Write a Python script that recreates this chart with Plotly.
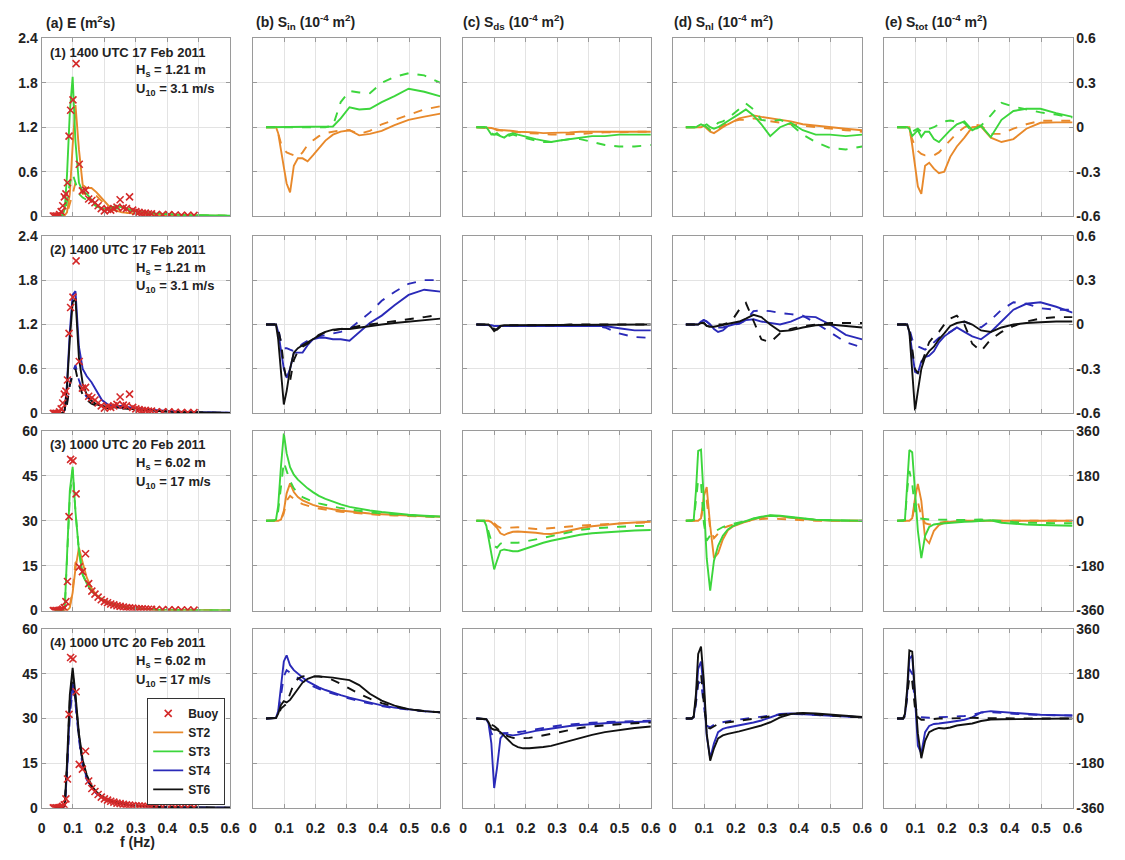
import plotly.graph_objects as go

# ---------------- data ----------------
F = [0.042, 0.046, 0.051, 0.056, 0.061, 0.067, 0.074, 0.081, 0.090, 0.099, 0.108, 0.119, 0.131, 0.144,
     0.159, 0.175, 0.192, 0.211, 0.232, 0.256, 0.281, 0.309, 0.340, 0.374, 0.412, 0.453, 0.498, 0.548, 0.600]

FB = [0.0375, 0.0425, 0.0475, 0.0525, 0.0575, 0.0625, 0.0675, 0.0725, 0.0775, 0.0825, 0.0875, 0.0925, 0.1,
      0.11, 0.12, 0.13, 0.14, 0.15, 0.16, 0.17, 0.18, 0.19, 0.2, 0.21, 0.22, 0.23, 0.24, 0.25, 0.26, 0.27,
      0.28, 0.29, 0.3, 0.31, 0.32, 0.33, 0.34, 0.35, 0.365, 0.385, 0.405, 0.425, 0.445, 0.465, 0.485]
BUOY_17FEB = [0, 0, 0, 0, 0.02, 0.06, 0.14, 0.26, 0.3, 0.45, 1.08, 1.43, 1.57,
              2.06, 0.70, 0.34, 0.35, 0.23, 0.21, 0.18, 0.14, 0.1, 0.07, 0.09, 0.08, 0.1, 0.12, 0.22, 0.11, 0.1,
              0.26, 0.08, 0.06, 0.05, 0.04, 0.04, 0.03, 0.03, 0.02, 0.02, 0.02, 0.015, 0.01, 0.01, 0.01]
BUOY_20FEB = [0, 0, 0, 0, 0, 0.2, 0.5, 1, 3, 9.7, 31.4, 50.5, 50,
              39, 14.6, 13, 19, 9, 6.5, 5.5, 4.5, 3.6, 3, 2.6, 2.2, 1.9, 1.6, 1.4, 1.2, 1,
              0.9, 0.8, 0.7, 0.6, 0.55, 0.5, 0.45, 0.4, 0.35, 0.3, 0.25, 0.22, 0.2, 0.18, 0.15]

# Row 1 (ST2, ST3)
E1_ST2 = [0,0,0,0,0,0, 0.01,0.05,0.3,0.95,1.5,0.9, 0.42,0.38,0.38,0.32,0.24,0.15, 0.08,0.05,0.04,0.03,0.02,0.015, 0.01,0.008,0.005,0.004,0.003]
E1_ST2D = [0,0,0,0,0,0, 0.01,0.03,0.15,0.3,0.45,0.4, 0.3,0.3,0.3,0.27,0.2,0.12, 0.08,0.05,0.04,0.03,0.02,0.015, 0.01,0.008,0.005,0.004,0.003]
E1_ST3 = [0,0,0,0,0,0.01, 0.1,0.55,1.4,1.88,1.0,0.45, 0.33,0.3,0.22,0.15,0.1,0.1, 0.13,0.12,0.09,0.06,0.04,0.03, 0.02,0.015,0.01,0.008,0.006]
E1_ST3D = [0,0,0,0,0,0.01, 0.05,0.2,0.45,0.57,0.45,0.3, 0.25,0.22,0.18,0.13,0.1,0.09, 0.1,0.1,0.08,0.05,0.04,0.03, 0.02,0.015,0.01,0.008,0.006]
SIN1_ST2 = [0,0,0,0,0,0, 0,-0.04,-0.17,-0.27,-0.38,-0.44, -0.26,-0.21,-0.21,-0.23,-0.19,-0.14, -0.09,-0.05,-0.03,-0.02,-0.055,-0.045, -0.025,0.015,0.05,0.072,0.092]
SIN1_ST2D = [0,0,0,0,0,0, 0,-0.04,-0.11,-0.15,-0.17,-0.18, -0.19,-0.2,-0.17,-0.12,-0.09,-0.06, -0.04,-0.03,-0.02,-0.02,-0.045,-0.025, 0.02,0.05,0.085,0.12,0.142]
SIN1_ST3 = [0,0,0,0,0,0, 0,0,0,0,0,0, 0,0,0,0,0,0, 0,0.005,0.06,0.135,0.12,0.125, 0.17,0.21,0.26,0.24,0.208]
SIN1_ST3D = [0,0,0,0,0,0, 0,0,0,0,0,0, 0,0,0,0,0,0, 0,0.01,0.17,0.245,0.235,0.23, 0.3,0.34,0.365,0.35,0.3]
SDS1_ST2 = [0,0,0,0,0,0, 0,0,-0.005,-0.01,-0.015,-0.02, -0.02,-0.02,-0.025,-0.03,-0.03,-0.03, -0.035,-0.04,-0.04,-0.04,-0.035,-0.03, -0.03,-0.025,-0.025,-0.03,-0.03]
SDS1_ST2D = [0,0,0,0,0,0, 0,0,-0.005,-0.01,-0.02,-0.02, -0.02,-0.025,-0.03,-0.03,-0.035,-0.04, -0.04,-0.045,-0.05,-0.05,-0.05,-0.045, -0.04,-0.035,-0.035,-0.03,-0.03]
SDS1_ST3 = [0,0,0,0,0,0, 0,-0.02,-0.05,-0.05,-0.04,-0.06, -0.07,-0.05,-0.04,-0.05,-0.06,-0.07, -0.08,-0.09,-0.1,-0.09,-0.08,-0.07, -0.06,-0.06,-0.05,-0.05,-0.05]
SDS1_ST3D = [0,0,0,0,0,0, 0,-0.02,-0.04,-0.05,-0.05,-0.06, -0.07,-0.06,-0.05,-0.06,-0.07,-0.08, -0.09,-0.1,-0.1,-0.09,-0.08,-0.08, -0.1,-0.12,-0.13,-0.13,-0.12]
SNL1_ST2 = [0,0,0,0,0,0, 0,0,0,0.01,-0.01,-0.03, -0.04,-0.02,0,0.02,0.04,0.06, 0.07,0.08,0.07,0.06,0.05,0.04, 0.02,0.01,0,-0.01,-0.02]
SNL1_ST2D = [0,0,0,0,0,0, 0,0,0,0.01,0,-0.02, -0.03,-0.01,0.01,0.03,0.04,0.05, 0.05,0.06,0.05,0.04,0.03,0.02, 0.01,0,-0.01,-0.02,-0.03]
SNL1_ST3 = [0,0,0,0,0,0, 0,0.01,0.02,0.01,0.02,0, -0.01,0,0.02,0.04,0.06,0.09, 0.12,0.08,0.02,-0.06,0,0.03, -0.02,-0.05,-0.05,-0.06,-0.05]
SNL1_ST3D = [0,0,0,0,0,0, 0,0.01,0.02,0.01,0,-0.02, 0,0.03,0.04,0.06,0.09,0.12, 0.16,0.12,0.05,0.04,0.05,0.02, -0.05,-0.1,-0.14,-0.15,-0.13]
STOT1_ST2 = [0,0,0,0,0,0, 0,0,-0.12,-0.28,-0.4,-0.45, -0.26,-0.24,-0.28,-0.31,-0.3,-0.2, -0.13,-0.07,0,0.005,-0.07,-0.1, -0.08,-0.01,0.03,0.033,0.033]
STOT1_ST2D = [0,0,0,0,0,0, 0,-0.03,-0.08,-0.13,-0.16,-0.18, -0.19,-0.19,-0.19,-0.17,-0.13,-0.09, -0.04,0,0.02,0.01,-0.045,-0.045, -0.01,0.02,0.044,0.044,0.044]
STOT1_ST3 = [0,0,0,0,0,0, 0,-0.01,-0.06,-0.04,-0.02,-0.065, -0.03,-0.03,-0.08,-0.1,-0.06,-0.02, 0.02,0.04,-0.02,0.01,-0.066,0.05, 0.11,0.125,0.125,0.095,0.07]
STOT1_ST3D = [0,0,0,0,0,0, 0,-0.01,-0.03,-0.02,-0.01,-0.03, -0.02,-0.01,0,0.02,0.04,0.045, 0.04,0.03,-0.03,0.01,0.08,0.165, 0.14,0.12,0.1,0.085,0.066]

# Row 2 (ST4, ST6)
E2_ST4 = [0,0,0,0,0,0, 0.05,0.4,1.1,1.6,1.65,0.9, 0.6,0.5,0.42,0.3,0.18,0.12, 0.1,0.1,0.08,0.06,0.05,0.04, 0.03,0.02,0.015,0.01,0.008]
E2_ST4D = [0,0,0,0,0,0, 0.02,0.15,0.4,0.55,0.65,0.45, 0.3,0.22,0.17,0.13,0.1,0.08, 0.08,0.08,0.07,0.05,0.04,0.03, 0.02,0.015,0.01,0.008,0.006]
E2_ST6 = [0,0,0,0,0,0, 0.05,0.35,1.0,1.5,1.55,0.75, 0.4,0.25,0.17,0.12,0.1,0.08, 0.08,0.08,0.06,0.05,0.04,0.03, 0.02,0.015,0.01,0.008,0.006]
E2_ST6D = [0,0,0,0,0,0, 0.02,0.12,0.38,0.52,0.6,0.38, 0.25,0.18,0.13,0.1,0.08,0.07, 0.07,0.07,0.06,0.05,0.04,0.03, 0.02,0.015,0.01,0.008,0.006]
SIN2_ST4 = [0,0,0,0,0,0, 0,-0.05,-0.18,-0.3,-0.36,-0.3, -0.19,-0.19,-0.19,-0.14,-0.1,-0.09, -0.09,-0.1,-0.1,-0.11,-0.05,0.01, 0.06,0.13,0.2,0.235,0.222]
SIN2_ST4D = [0,0,0,0,0,0, 0,-0.03,-0.12,-0.16,-0.16,-0.17, -0.18,-0.16,-0.13,-0.11,-0.09,-0.08, -0.07,-0.06,-0.05,-0.03,0.02,0.08, 0.16,0.22,0.275,0.3,0.3]
SIN2_ST6 = [0,0,0,0,0,0, 0,-0.1,-0.35,-0.54,-0.45,-0.3, -0.19,-0.16,-0.14,-0.12,-0.1,-0.075, -0.05,-0.035,-0.03,-0.03,-0.02,-0.01, 0,0.01,0.02,0.03,0.04]
SIN2_ST6D = [0,0,0,0,0,0, 0,-0.03,-0.12,-0.28,-0.38,-0.38, -0.24,-0.18,-0.15,-0.13,-0.1,-0.07, -0.05,-0.04,-0.03,-0.025,-0.01,0, 0.01,0.02,0.033,0.05,0.067]
SDS2_ST4 = [0,0,0,0,0,0, 0,0,-0.005,-0.01,-0.01,-0.005, -0.005,-0.005,-0.005,-0.005,-0.005,-0.005, -0.005,-0.005,-0.005,-0.005,-0.005,-0.005, -0.005,-0.01,-0.025,-0.04,-0.04]
SDS2_ST4D = [0,0,0,0,0,0, 0,0,-0.005,-0.01,-0.01,-0.005, -0.01,-0.01,-0.01,-0.01,-0.01,-0.01, -0.01,-0.01,-0.005,-0.005,-0.005,-0.005, -0.01,-0.02,-0.06,-0.085,-0.09]
SDS2_ST6 = [0,0,0,0,0,0, 0,0,-0.02,-0.045,-0.03,-0.01, -0.005,-0.005,-0.005,-0.005,-0.005,-0.005, -0.005,-0.005,-0.005,0,0,0, 0,0,0,0,0]
SDS2_ST6D = [0,0,0,0,0,0, 0,0,-0.01,-0.03,-0.035,-0.015, -0.01,-0.005,-0.005,-0.005,-0.01,-0.01, -0.005,-0.005,-0.005,-0.005,0,0, 0,0,0,0,0]
SNL2_ST4 = [0,0,0,0,0,0, 0,0,0.02,0.03,0.02,0, -0.03,-0.05,-0.04,-0.01,0,0.01, 0.03,0.035,0.02,0.01,0,0.02, 0.055,0.05,0,-0.07,-0.1]
SNL2_ST4D = [0,0,0,0,0,0, 0,0,0.02,0.03,0.02,0, -0.01,-0.02,-0.02,-0.01,0,0.005, 0.03,0.09,0.095,0.09,0.078,0.07, 0.06,0.01,-0.05,-0.12,-0.155]
SNL2_ST6 = [0,0,0,0,0,0, 0,0,0.01,0.01,-0.01,-0.015, -0.015,-0.01,0,0.005,0.01,0.02, 0.04,0.065,0.05,0,-0.045,-0.04, -0.02,-0.005,0,-0.01,-0.02]
SNL2_ST6D = [0,0,0,0,0,0, 0,0,0.02,0.01,-0.01,-0.015, -0.01,0,0,0.01,0.04,0.1, 0.145,0.03,-0.1,-0.12,-0.06,-0.03, -0.01,0,0.01,0.01,0.01]
STOT2_ST4 = [0,0,0,0,0,0, 0,-0.05,-0.2,-0.32,-0.33,-0.25, -0.22,-0.21,-0.18,-0.12,-0.08,-0.05, -0.02,-0.05,-0.08,-0.1,-0.05,0.02, 0.1,0.14,0.15,0.12,0.08]
STOT2_ST4D = [0,0,0,0,0,0, 0,-0.03,-0.1,-0.14,-0.15,-0.16, -0.17,-0.15,-0.12,-0.09,-0.07,-0.05, -0.02,0.02,0,-0.02,0.03,0.1, 0.15,0.14,0.11,0.1,0.1]
STOT2_ST6 = [0,0,0,0,0,0, 0,-0.05,-0.3,-0.58,-0.45,-0.3, -0.22,-0.18,-0.15,-0.1,-0.06,-0.01, 0.01,0.02,0,-0.04,-0.05,-0.02, 0,0.01,0.015,0.02,0.02]
STOT2_ST6D = [0,0,0,0,0,0, 0,-0.03,-0.15,-0.3,-0.33,-0.27, -0.2,-0.12,-0.08,-0.05,0,0.04, 0.06,0,-0.13,-0.18,-0.1,-0.05, -0.01,0.02,0.04,0.05,0.05]

# Row 3 (ST2, ST3)
E3_ST2 = [0,0,0,0,0,0, 0,0,1,6,14,21, 16,11,7.5,5.2,3.8,2.8, 2,1.4,1,0.7,0.45,0.3, 0.2,0.13,0.09,0.06,0.04]
E3_ST2D = [0,0,0,0,0,0, 0,0,1.5,7,16,17, 13,9.5,7,5,3.7,2.7, 2,1.4,1,0.7,0.45,0.3, 0.2,0.13,0.09,0.06,0.04]
E3_ST3 = [0,0,0,0,0,0, 1,20,40,48,33,20, 12,9,6.5,5,3.7,2.7, 2,1.3,0.9,0.6,0.4,0.25, 0.15,0.1,0.07,0.05,0.03]
E3_ST3D = [0,0,0,0,0,0, 1,18,38,47,33,20, 12,9,6.5,5,3.7,2.7, 2,1.3,0.9,0.6,0.4,0.25, 0.15,0.1,0.07,0.05,0.03]
SIN3_ST2 = [0,0,0,0,0,0, 0,0,5,40,110,150, 115,95,82,72,64,57, 51,46,41,37,33,29, 26,23,20,18,16]
SIN3_ST2D = [0,0,0,0,0,0, 0,0,4,30,80,100, 88,76,67,60,54,49, 44,40,36,33,29,26, 23,21,19,17,15]
SIN3_ST3 = [0,0,0,0,0,0, 5,60,220,350,270,215, 185,165,148,130,115,100, 88,76,66,56,48,41, 35,29,24,20,17]
SIN3_ST3D = [0,0,0,0,0,0, 3,40,150,235,200,160, 130,110,95,85,77,70, 63,57,51,45,39,34, 29,25,21,18,15]
SDS3_ST2 = [0,0,0,0,0,0, 0,0,-5,-15,-28,-50, -57,-50,-44,-43,-44,-46, -48,-52,-53,-47,-38,-30, -22,-16,-11,-7,-4]
SDS3_ST2D = [0,0,0,0,0,0, 0,0,-3,-10,-20,-28, -30,-28,-26,-26,-28,-31, -33,-32,-30,-27,-23,-19, -16,-13,-10,-8,-7]
SDS3_ST3 = [0,0,0,0,0,0, -20,-70,-135,-195,-160,-120, -115,-118,-122,-122,-115,-105, -97,-88,-80,-72,-64,-56, -50,-46,-42,-39,-37]
SDS3_ST3D = [0,0,0,0,0,0, -15,-45,-82,-100,-108,-92, -86,-88,-89,-88,-85,-80, -75,-68,-61,-53,-45,-37, -31,-27,-24,-21,-20]
SNL3_ST2 = [0,0,0,0,0,0, 0,0,10,100,135,-20, -150,-130,-75,-38,-22,-12, -3,5,14,20,18,12, 7,3,1,0,0]
SNL3_ST2D = [0,0,0,0,0,0, 0,0,8,80,80,-30, -70,-50,-30,-22,-15,-8, -3,3,7,9,7,4, 2,0,0,0,0]
SNL3_ST3 = [0,0,0,0,0,5, 120,280,285,80,-150,-280, -160,-100,-60,-35,-20,-10, 0,9,16,22,20,15, 10,4,2,0,0]
SNL3_ST3D = [0,0,0,0,0,3, 80,165,150,-10,-80,-58, -45,-35,-25,-18,-12,-6, 0,8,14,20,18,13, 8,4,2,1,0]
STOT3_ST2 = [0,0,0,0,0,0, 0,0,10,90,148,80, -70,-90,-40,-17,-8,-4, -2,0,0,0,0,0, 0,0,0,0,0]
STOT3_ST2D = [0,0,0,0,0,0, 0,0,8,70,75,20, -10,-15,-12,-8,-5,-3, -1,0,0,0,0,0, 0,0,0,0,0]
STOT3_ST3 = [0,0,0,0,0,5, 150,284,275,130,-40,-150, -60,-25,-15,-12,-10,-8, -6,-4,-3,0,2,-8, -12,-15,-17,-19,-20]
STOT3_ST3D = [0,0,0,0,0,3, 120,200,150,40,10,8, 6,5,5,4,4,3, 3,3,4,5,3,-2, -5,-8,-9,-10,-10]

# Row 4 (ST4, ST6)
E4_ST4 = [0,0,0,0,0,0, 0.8,12,33,42,36,24, 15,10,7,5,3.6,2.6, 1.9,1.3,0.9,0.6,0.4,0.28, 0.18,0.12,0.08,0.05,0.03]
E4_ST4D = [0,0,0,0,0,0, 0.8,11,31,40,35,23, 14,9.5,6.8,4.8,3.5,2.5, 1.8,1.3,0.9,0.6,0.4,0.28, 0.18,0.12,0.08,0.05,0.03]
E4_ST6 = [0,0,0,0,0,0, 1,15,38,47,38,25, 16,11,7.5,5.3,3.8,2.8, 2,1.4,1,0.7,0.45,0.3, 0.2,0.13,0.09,0.06,0.04]
E4_ST6D = [0,0,0,0,0,0, 1,14,36,45,37,24, 15,10.5,7,5,3.6,2.7, 2,1.4,1,0.7,0.45,0.3, 0.2,0.13,0.09,0.06,0.04]
SIN4_ST4 = [0,0,0,0,0,0, 3,30,120,230,255,215, 195,180,165,150,138,126, 115,104,94,84,74,64, 53,44,36,30,25]
SIN4_ST4D = [0,0,0,0,0,0, 2,20,90,170,195,185, 172,162,150,140,130,120, 110,100,90,80,70,60, 50,42,35,29,25]
SIN4_ST6 = [0,0,0,0,0,0, 2,20,55,70,65,75, 95,120,145,160,168,170, 168,165,160,155,135,100, 72,52,38,30,25]
SIN4_ST6D = [0,0,0,0,0,0, 2,15,40,50,60,100, 140,160,170,172,172,170, 165,155,140,120,100,80, 62,48,37,30,25]
SDS4_ST4 = [0,0,0,0,0,0, -3,-20,-100,-280,-200,-80, -60,-65,-68,-65,-60,-55, -50,-45,-40,-35,-30,-26, -22,-19,-16,-14,-12]
SDS4_ST4D = [0,0,0,0,0,0, -3,-20,-60,-75,-70,-60, -58,-58,-58,-56,-52,-48, -43,-38,-33,-28,-24,-20, -17,-14,-12,-10,-9]
SDS4_ST6 = [0,0,0,0,0,0, -3,-15,-40,-45,-45,-55, -70,-90,-105,-115,-120,-120, -118,-115,-110,-100,-90,-78, -66,-55,-46,-38,-32]
SDS4_ST6D = [0,0,0,0,0,0, -2,-10,-25,-30,-40,-55, -65,-72,-78,-80,-80,-78, -74,-68,-60,-52,-45,-38, -32,-27,-23,-19,-16]
SNL4_ST4 = [0,0,0,0,0,8, 80,200,230,110,-70,-160, -100,-55,-42,-36,-32,-28, -22,-16,-8,5,18,20, 18,15,11,8,5]
SNL4_ST4D = [0,0,0,0,0,5, 60,140,150,50,-30,-35, -25,-18,-14,-10,-7,-4, 0,4,8,12,16,18, 17,14,10,7,5]
SNL4_ST6 = [0,0,0,0,0,10, 100,260,290,150,-60,-170, -120,-80,-68,-62,-58,-52, -45,-38,-28,-15,5,18, 22,20,15,10,6]
SNL4_ST6D = [0,0,0,0,0,6, 70,160,180,60,-35,-40, -30,-22,-18,-15,-12,-8, -4,0,5,10,15,20, 20,16,12,8,5]
STOT4_ST4 = [0,0,0,0,0,15, 100,240,255,80,-110,-140, -55,-30,-22,-20,-18,-14, -10,-5,5,25,30,26, 23,19,15,13,12]
STOT4_ST4D = [0,0,0,0,0,10, 90,200,180,60,10,5, 3,3,4,5,6,7, 8,10,15,24,26,22, 19,16,14,13,12]
STOT4_ST6 = [0,0,0,0,0,20, 120,275,270,100,-60,-160, -90,-55,-45,-38,-40,-36, -28,-24,-20,-10,-4,-3, -2,-1,0,0,0]
STOT4_ST6D = [0,0,0,0,0,10, 80,170,150,40,5,-5, -5,-3,0,0,0,1, 2,3,3,2,1,0, 0,0,0,0,0]

COL_TITLES = ["(a) E (m<sup>2</sup>s)",
              "(b) S<sub>in</sub> (10<sup>-4</sup> m<sup>2</sup>)",
              "(c) S<sub>ds</sub> (10<sup>-4</sup> m<sup>2</sup>)",
              "(d) S<sub>nl</sub> (10<sup>-4</sup> m<sup>2</sup>)",
              "(e) S<sub>tot</sub> (10<sup>-4</sup> m<sup>2</sup>)"]
ROW_DATES = ["(1) 1400 UTC 17 Feb 2011", "(2) 1400 UTC 17 Feb 2011",
             "(3) 1000 UTC 20 Feb 2011", "(4) 1000 UTC 20 Feb 2011"]
ROW_HS = ["1.21 m", "1.21 m", "6.02 m", "6.02 m"]
ROW_U10 = ["3.1 m/s", "3.1 m/s", "17 m/s", "17 m/s"]
E_TICKS_SMALL = [0, 0.6, 1.2, 1.8, 2.4]
E_TICKS_LARGE = [0, 15, 30, 45, 60]
S_TICKS_SMALL = [-0.6, -0.3, 0, 0.3, 0.6]
S_TICKS_LARGE = [-360, -180, 0, 180, 360]
X_TICKS = [0, 0.1, 0.2, 0.3, 0.4, 0.5, 0.6]

# ---------------- styles / layout ----------------
ORANGE = "#E8892B"
GREEN = "#3CD63C"
BLUE = "#2A2AB8"
BLACK = "#111111"
RED = "#D42A2A"
W, H = 1125, 860
XPIX = [(38, 229), (252, 442), (465, 655), (677, 869), (891, 1082)]
YPIX = [(31, 212), (232, 413), (431, 614), (633, 815)]
FONT = "Liberation Sans, Arial, Helvetica, sans-serif"
TXT = "#222222"
AXCOL = "#9a9a9a"
LW = 1.9

ROW_MODELS = [
    [("ST2", ORANGE, [E1_ST2, SIN1_ST2, SDS1_ST2, SNL1_ST2, STOT1_ST2],
      [E1_ST2D, SIN1_ST2D, SDS1_ST2D, SNL1_ST2D, STOT1_ST2D]),
     ("ST3", GREEN, [E1_ST3, SIN1_ST3, SDS1_ST3, SNL1_ST3, STOT1_ST3],
      [E1_ST3D, SIN1_ST3D, SDS1_ST3D, SNL1_ST3D, STOT1_ST3D])],
    [("ST4", BLUE, [E2_ST4, SIN2_ST4, SDS2_ST4, SNL2_ST4, STOT2_ST4],
      [E2_ST4D, SIN2_ST4D, SDS2_ST4D, SNL2_ST4D, STOT2_ST4D]),
     ("ST6", BLACK, [E2_ST6, SIN2_ST6, SDS2_ST6, SNL2_ST6, STOT2_ST6],
      [E2_ST6D, SIN2_ST6D, SDS2_ST6D, SNL2_ST6D, STOT2_ST6D])],
    [("ST2", ORANGE, [E3_ST2, SIN3_ST2, SDS3_ST2, SNL3_ST2, STOT3_ST2],
      [E3_ST2D, SIN3_ST2D, SDS3_ST2D, SNL3_ST2D, STOT3_ST2D]),
     ("ST3", GREEN, [E3_ST3, SIN3_ST3, SDS3_ST3, SNL3_ST3, STOT3_ST3],
      [E3_ST3D, SIN3_ST3D, SDS3_ST3D, SNL3_ST3D, STOT3_ST3D])],
    [("ST4", BLUE, [E4_ST4, SIN4_ST4, SDS4_ST4, SNL4_ST4, STOT4_ST4],
      [E4_ST4D, SIN4_ST4D, SDS4_ST4D, SNL4_ST4D, STOT4_ST4D]),
     ("ST6", BLACK, [E4_ST6, SIN4_ST6, SDS4_ST6, SNL4_ST6, STOT4_ST6],
      [E4_ST6D, SIN4_ST6D, SDS4_ST6D, SNL4_ST6D, STOT4_ST6D])],
]
ROW_BUOY = [BUOY_17FEB, BUOY_17FEB, BUOY_20FEB, BUOY_20FEB]
RANK = {"Buoy": 1, "ST2": 2, "ST3": 3, "ST4": 4, "ST6": 5}


def fmt(v):
    return "%g" % v


fig = go.Figure()
shown = set()
layout_axes = {}

for r in range(4):
    for c in range(5):
        n = r * 5 + c + 1
        xa = "x" if n == 1 else "x%d" % n
        ya = "y" if n == 1 else "y%d" % n
        for name, color, solid, dashed in ROW_MODELS[r]:
            show = (c == 0 and name not in shown)
            if show:
                shown.add(name)
            fig.add_trace(go.Scatter(x=F, y=solid[c], xaxis=xa, yaxis=ya, mode="lines",
                                     line=dict(color=color, width=LW), name=name,
                                     legendgroup=name, showlegend=show, legendrank=RANK[name]))
            fig.add_trace(go.Scatter(x=F, y=dashed[c], xaxis=xa, yaxis=ya, mode="lines",
                                     line=dict(color=color, width=LW, dash="dash"), name=name,
                                     legendgroup=name, showlegend=False))
        if c == 0:
            show = "Buoy" not in shown
            shown.add("Buoy")
            fig.add_trace(go.Scatter(x=FB, y=ROW_BUOY[r], xaxis=xa, yaxis=ya, mode="markers",
                                     marker=dict(symbol="x-thin", size=7, color=RED,
                                                 line=dict(color=RED, width=1.6)),
                                     name="Buoy", legendgroup="Buoy", showlegend=show,
                                     legendrank=RANK["Buoy"]))

        x0, x1 = XPIX[c]
        y0, y1 = YPIX[r]
        if c == 0:
            ticks = E_TICKS_SMALL if r < 2 else E_TICKS_LARGE
        else:
            ticks = S_TICKS_SMALL if r < 2 else S_TICKS_LARGE
        tickfont = dict(family=FONT, size=14, color=TXT, weight="bold")
        xkey = "xaxis" if n == 1 else "xaxis%d" % n
        ykey = "yaxis" if n == 1 else "yaxis%d" % n
        layout_axes[xkey] = dict(
            domain=[x0 / W, x1 / W], anchor=ya, range=[0, 0.6],
            tickvals=X_TICKS, ticktext=[fmt(v) for v in X_TICKS],
            showticklabels=(r == 3), tickfont=tickfont, ticklabelstandoff=7,
            showgrid=True, gridcolor="#e3e3e3", gridwidth=1, zeroline=False,
            showline=True, linecolor=AXCOL, linewidth=1, mirror="ticks",
            ticks="inside", ticklen=4, tickcolor=AXCOL)
        layout_axes[ykey] = dict(
            domain=[1 - y1 / H, 1 - y0 / H], anchor=xa, range=[ticks[0], ticks[-1]],
            tickvals=ticks, ticktext=[fmt(v) for v in ticks],
            showticklabels=(c == 0 or c == 4), side=("right" if c == 4 else "left"),
            tickfont=tickfont,
            showgrid=True, gridcolor="#e3e3e3", gridwidth=1, zeroline=False,
            showline=True, linecolor=AXCOL, linewidth=1, mirror="ticks",
            ticks="inside", ticklen=4, tickcolor=AXCOL)

annotations = []
TITLE_X = [40, 253, 463, 676, 890]
for c in range(5):
    annotations.append(dict(text=COL_TITLES[c], x=TITLE_X[c] / W, y=1 - 14 / H, xref="paper", yref="paper",
                            xanchor="left", yanchor="middle", showarrow=False,
                            font=dict(family=FONT, size=14, color=TXT, weight="bold")))
for r in range(4):
    top = YPIX[r][0]
    annotations.append(dict(text=ROW_DATES[r], x=45 / W, y=1 - (top + 14) / H, xref="paper", yref="paper",
                            xanchor="left", yanchor="middle", showarrow=False,
                            font=dict(family=FONT, size=13, color=TXT, weight="bold")))
    annotations.append(dict(text="H<sub>s</sub> = " + ROW_HS[r], x=132 / W, y=1 - (top + 33) / H,
                            xref="paper", yref="paper", xanchor="left", yanchor="middle", showarrow=False,
                            font=dict(family=FONT, size=13, color=TXT, weight="bold")))
    annotations.append(dict(text="U<sub>10</sub> = " + ROW_U10[r], x=132 / W, y=1 - (top + 52) / H,
                            xref="paper", yref="paper", xanchor="left", yanchor="middle", showarrow=False,
                            font=dict(family=FONT, size=13, color=TXT, weight="bold")))
annotations.append(dict(text="f (Hz)", x=135 / W, y=1 - 850 / H, xref="paper", yref="paper",
                        xanchor="center", yanchor="middle", showarrow=False,
                        font=dict(family=FONT, size=14, color=TXT, weight="bold")))

fig.update_layout(
    width=W, height=H, margin=dict(l=0, r=0, t=0, b=0),
    paper_bgcolor="white", plot_bgcolor="white",
    annotations=annotations,
    legend=dict(x=145 / W, y=1 - 703 / H, xanchor="left", yanchor="top",
                bgcolor="white", bordercolor="#333333", borderwidth=1,
                font=dict(family=FONT, size=12, color=TXT, weight="bold"),
                tracegroupgap=0, itemwidth=30),
    **layout_axes)

fig.write_html("out.html", config={"displayModeBar": False},
               post_script="document.body.style.margin='0';")
